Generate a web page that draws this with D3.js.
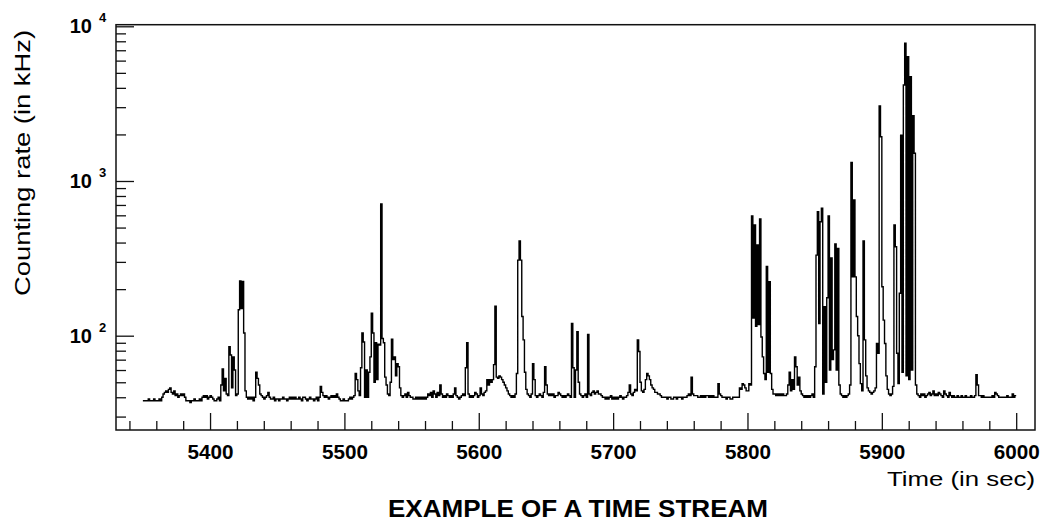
<!DOCTYPE html>
<html><head><meta charset="utf-8">
<script src="https://cdn.jsdelivr.net/npm/d3@7"></script>
<style>
html,body{margin:0;padding:0;background:#fff;}
svg{display:block;}
text{font-family:"Liberation Sans",Arial,Helvetica,sans-serif;fill:#000;}
</style></head><body>
<svg id="chart" width="1043" height="522"></svg>
<script>
// ---- data ----
const tStart = 5350;   // first sample time (s)
const tStep = 1;       // sampling (s)
const rate = [
/*5350*/ 38,38,38,38,39,38,38,38,39,38,
/*5360*/ 38,38,39,38,40,42,43,44,43,45,
/*5370*/ 46,43,42,44,41,42,40,41,42,41,
/*5380*/ 42,40,38,38,38,37,38,38,39,38,
/*5390*/ 38,38,39,38,40,41,40,41,39,40,
/*5400*/ 41,40,39,38,38,39,40,38,48,61,
/*5410*/ 44,53,42,41,85,75,46,73,60,41,
/*5420*/ 42,147,226,150,224,104,44,40,39,40,
/*5430*/ 39,40,38,40,58,53,48,42,41,40,
/*5440*/ 39,40,41,43,40,39,39,40,38,39,
/*5450*/ 39,38,39,39,40,39,39,38,39,40,
/*5460*/ 39,40,39,40,39,39,40,39,38,40,
/*5470*/ 40,39,38,39,40,39,39,38,39,40,
/*5480*/ 38,40,47,43,41,40,41,40,39,40,
/*5490*/ 41,40,41,40,42,40,39,38,38,39,
/*5500*/ 38,38,38,39,40,39,40,41,57,52,
/*5510*/ 44,41,62,104,91,40,60,40,58,73,
/*5520*/ 140,104,50,90,52,88,87,710,96,90,
/*5530*/ 54,48,42,41,50,95,70,73,55,66,
/*5540*/ 63,46,41,40,41,42,40,43,41,40,
/*5550*/ 40,39,39,40,39,40,39,40,39,40,
/*5560*/ 39,40,42,41,43,40,44,42,40,43,
/*5570*/ 41,48,42,40,41,40,42,41,40,41,
/*5580*/ 40,42,46,41,40,39,40,41,42,41,
/*5590*/ 62,90,42,40,41,40,41,43,42,40,
/*5600*/ 41,46,42,41,43,44,52,48,52,50,
/*5610*/ 52,65,155,54,53,55,54,52,50,48,
/*5620*/ 46,44,42,41,40,41,40,42,57,308,
/*5630*/ 410,308,133,94,58,45,42,41,40,42,
/*5640*/ 66,52,41,40,41,42,41,40,43,63,
/*5650*/ 48,42,41,42,41,42,40,41,41,43,
/*5660*/ 42,41,40,41,40,41,42,41,40,120,
/*5670*/ 62,40,60,106,50,42,41,40,41,42,
/*5680*/ 40,102,42,41,43,44,42,43,44,42,
/*5690*/ 42,41,40,40,39,40,39,40,41,39,
/*5700*/ 40,39,40,39,40,41,40,39,40,40,
/*5710*/ 41,43,48,42,41,43,45,44,94,79,
/*5720*/ 50,44,43,45,52,57,55,52,48,46,
/*5730*/ 45,43,43,42,42,41,40,40,40,40,
/*5740*/ 39,40,40,39,39,40,40,39,40,40,
/*5750*/ 40,39,40,40,40,41,42,41,54,42,
/*5760*/ 41,41,41,40,40,41,40,41,40,41,
/*5770*/ 41,40,41,40,41,40,40,40,49,42,
/*5780*/ 41,40,40,40,39,40,40,39,39,40,
/*5790*/ 40,40,40,40,46,45,49,48,46,44,
/*5800*/ 44,49,48,594,130,520,115,386,118,568,
/*5810*/ 98,73,57,52,280,58,223,57,45,42,
/*5820*/ 42,41,42,41,42,41,42,41,41,42,
/*5830*/ 48,58,44,52,45,73,63,48,54,44,
/*5840*/ 42,41,40,41,40,41,40,41,42,40,
/*5850*/ 63,332,634,120,545,666,42,154,50,176,
/*5860*/ 594,60,318,70,81,392,60,367,48,42,
/*5870*/ 41,40,41,40,41,42,48,1320,240,754,
/*5880*/ 240,133,100,66,49,44,410,94,55,46,
/*5890*/ 44,43,42,43,44,46,89,77,3060,1934,
/*5900*/ 207,126,89,55,45,42,41,42,47,520,
/*5910*/ 376,77,49,188,1980,58,4170,7770,55,6350,
/*5920*/ 52,4730,60,2640,1510,48,42,41,40,42,
/*5930*/ 41,42,40,41,42,43,41,42,44,41,
/*5940*/ 42,41,43,42,41,40,44,42,41,40,
/*5950*/ 43,41,40,41,40,40,41,40,40,41,
/*5960*/ 40,40,41,40,40,40,41,40,40,41,
/*5970*/ 56,48,41,41,40,41,40,40,40,40,
/*5980*/ 40,40,41,40,43,42,41,40,40,40,
/*5990*/ 40,40,40,41,40,40,40,42,40,41,
/*6000*/ 41
];
const xMajorTicks = [5400,5500,5600,5700,5800,5900,6000];
const xMinorTicks = [5340,5360,5380,5420,5440,5460,5480,5520,5540,5560,5580,5620,5640,5660,5680,
                     5720,5740,5760,5780,5820,5840,5860,5880,5920,5940,5960,5980];
const yMajorTicks = [100,1000,10000];
const yTickBase = "10";
const yTickExponents = ["2","3","4"];
const yMinorTicks = [30,40,50,60,70,80,90,200,300,400,500,600,700,800,900,
                     2000,3000,4000,5000,6000,7000,8000,9000];
const xTitle = "Time (in sec)";
const yTitle = "Counting rate (in kHz)";
const chartTitle = "EXAMPLE OF A TIME STREAM";

// ---- layout ----
const P = {l:116, t:24.7, r:1035, b:430};
const x = d3.scaleLinear().domain([5330, 6014]).range([P.l, P.r]);
const y = d3.scaleLog().domain([24.57, 10240]).range([P.b, P.t]);
const FONT = '"Liberation Sans", Arial, Helvetica, sans-serif';
const svg = d3.select('#chart');

// data line
const pts = rate.map((v,i) => [tStart + i*tStep, v]);
const line = d3.line().x(d => x(d[0])).y(d => y(d[1])).curve(d3.curveStepAfter);
svg.append('path').datum(pts).attr('d', line)
  .attr('fill','none').attr('stroke','#000').attr('stroke-width',1.4)
  .attr('stroke-linejoin','miter');

function styleAxis(g){
  g.select('.domain').remove();
  g.attr('font-family', FONT);
  g.selectAll('.tick line').attr('stroke','#111').attr('stroke-width',1.3);
}

// x axis
svg.append('g').attr('transform',`translate(0,${P.b})`)
  .call(d3.axisBottom(x).tickValues(xMinorTicks).tickSize(-9).tickFormat(''))
  .call(styleAxis);
const gx = svg.append('g').attr('transform',`translate(0,${P.b})`)
  .call(d3.axisBottom(x).tickValues(xMajorTicks).tickSize(-17).tickPadding(15).tickFormat(d3.format('d')))
  .call(styleAxis);
gx.attr('font-size',19.5).attr('font-weight','bold');
gx.selectAll('text').attr('fill','#000').attr('textLength',46).attr('lengthAdjust','spacingAndGlyphs');

// y axis
svg.append('g').attr('transform',`translate(${P.l},0)`)
  .call(d3.axisLeft(y).tickValues(yMinorTicks).tickSize(-10).tickFormat(''))
  .call(styleAxis);
svg.append('g').attr('transform',`translate(${P.l},0)`)
  .call(d3.axisLeft(y).tickValues(yMajorTicks).tickSize(-18).tickFormat(''))
  .call(styleAxis);

// y tick labels 10^n
const yl = svg.append('g').attr('font-weight','bold');
yMajorTicks.forEach((v,i) => {
  yl.append('text').attr('x',92).attr('y',y(v)+7.2).attr('text-anchor','end')
    .attr('font-size',20).text(yTickBase);
  yl.append('text').attr('x',99).attr('y',y(v)-3.8).attr('text-anchor','start')
    .attr('font-size',13).text(yTickExponents[i]);
});

// frame
svg.append('rect').attr('x',P.l).attr('y',P.t).attr('width',P.r-P.l).attr('height',P.b-P.t)
  .attr('fill','none').attr('stroke','#111').attr('stroke-width',1.5);

// titles
svg.append('text').attr('x',P.r).attr('y',486).attr('text-anchor','end')
  .attr('font-size',20).attr('textLength',148).attr('lengthAdjust','spacingAndGlyphs').text(xTitle);
svg.append('text').attr('transform','translate(30,163) rotate(-90)').attr('text-anchor','middle')
  .attr('font-size',22).attr('textLength',266).attr('lengthAdjust','spacingAndGlyphs').text(yTitle);
svg.append('text').attr('x',388).attr('y',516.7).attr('text-anchor','start')
  .attr('font-size',23).attr('font-weight','bold').attr('textLength',380).attr('lengthAdjust','spacingAndGlyphs').text(chartTitle);
</script>
</body></html>
